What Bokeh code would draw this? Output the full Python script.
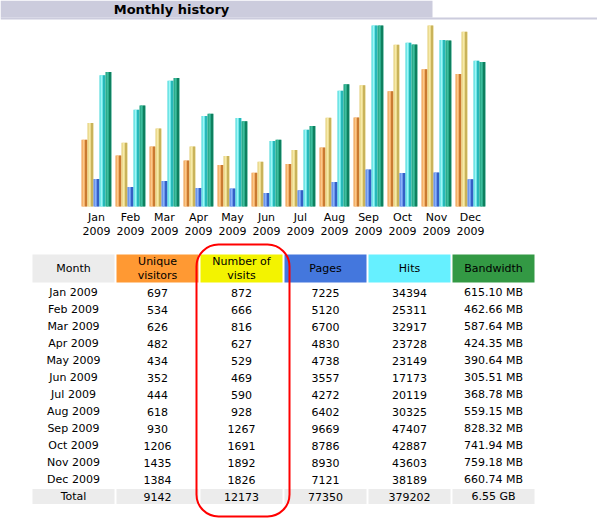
import numpy as np
from bokeh.plotting import figure
from bokeh.layouts import column
from bokeh.models import Range1d, ColumnDataSource, BoxAnnotation, Label
from bokeh.transform import dodge
from bokeh.core.properties import value
from bokeh.embed import file_html
from bokeh.resources import INLINE

# ---------------- data ----------------
year = "2009"
months = ["Jan", "Feb", "Mar", "Apr", "May", "Jun",
          "Jul", "Aug", "Sep", "Oct", "Nov", "Dec"]
unique_visitors = [697, 534, 626, 482, 434, 352, 444, 618, 930, 1206, 1435, 1384]
visits = [872, 666, 816, 627, 529, 469, 590, 928, 1267, 1691, 1892, 1826]
pages = [7225, 5120, 6700, 4830, 4738, 3557, 4272, 6402, 9669, 8786, 8930, 7121]
hits = [34394, 25311, 32917, 23728, 23149, 17173, 20119, 30325, 47407, 42887, 43603, 38189]
bandwidth_mb = [615.10, 462.66, 587.64, 424.35, 390.64, 305.51,
                368.78, 559.15, 828.32, 741.94, 759.18, 660.74]
table_headers = ["Month", "Unique\nvisitors", "Number of\nvisits", "Pages", "Hits", "Bandwidth"]
title_text = "Monthly history"
total_label = "Total"

FONT = "DejaVu Sans"
W = 597


def bare(fig):
    fig.grid.visible = False
    fig.outline_line_color = None
    fig.background_fill_color = "white"
    fig.border_fill_color = "white"
    return fig


# ---------------- title bar ----------------
TH = 20
tf = bare(figure(width=W, height=TH, x_range=Range1d(0, W), y_range=Range1d(TH, 0),
                 output_backend="svg", toolbar_location=None, min_border=0,
                 x_axis_location=None, y_axis_location=None))
tf.add_layout(BoxAnnotation(left=0, right=432, top=0, bottom=17, fill_color="#CCCCDD",
                            fill_alpha=1, line_color=None))
tf.add_layout(BoxAnnotation(left=0, right=W, top=17, bottom=19, fill_color="#CCCCDD",
                            fill_alpha=1, line_color=None))
tf.add_layout(Label(x=171, y=9, text=title_text, text_font=FONT, text_font_style="bold",
                    text_font_size="13px", text_align="center", text_baseline="middle",
                    text_color="#000000"))

# ---------------- bar chart ----------------
CH = 220
group_px = 34.0
first_center_px = 96.0
base_px = 186.0
full_px = 181.0


def yrange(vmax):
    return Range1d(-vmax * (CH - base_px) / full_px, vmax * (1 + (base_px - full_px) / full_px))


cf = bare(figure(width=W, height=CH,
                 x_range=Range1d(-first_center_px / group_px, (W - first_center_px) / group_px),
                 y_range=yrange(max(visits)),
                 output_backend="svg", toolbar_location=None, min_border=0,
                 x_axis_location=None, y_axis_location=None))
cf.extra_y_ranges = {"hits": yrange(max(hits)), "bw": yrange(max(bandwidth_mb))}

src = ColumnDataSource(dict(
    x=list(range(len(months))),
    label=[f"{m}\n{year}" for m in months],
    unique=unique_visitors, visits=visits, pages=pages, hits=hits, bw=bandwidth_mb,
))

series = [
    ("unique", "default", ("#EE9A48", "#FAC88C", "#A65A1A")),
    ("visits", "default", ("#E2CC72", "#F6EAAA", "#B09A42")),
    ("pages", "hits", ("#4A7AE2", "#8CB2F8", "#1E44A8")),
    ("hits", "hits", ("#3CD6D8", "#A0F6F6", "#129A9A")),
    ("bw", "bw", ("#189A78", "#3EBE9E", "#046646")),
]
bar_px = 6.0
for k, (fld, rname, (base_c, light_c, dark_c)) in enumerate(series):
    off = (k - (len(series) - 1) / 2) * bar_px
    cf.vbar(x=dodge("x", off / group_px, range=cf.x_range), top=fld, bottom=0,
            width=bar_px / group_px, source=src, fill_color=base_c, line_color=None,
            y_range_name=rname)
    cf.vbar(x=dodge("x", (off - 1.0) / group_px, range=cf.x_range), top=fld, bottom=0,
            width=2.0 / group_px, source=src, fill_color=light_c, line_color=None,
            y_range_name=rname)
    cf.vbar(x=dodge("x", (off + 1.5) / group_px, range=cf.x_range), top=fld, bottom=0,
            width=1.0 / group_px, source=src, fill_color=dark_c, line_color=None,
            y_range_name=rname)

cf.text(x="x", y=0, text="label", source=src, text_align="center", text_baseline="top",
        y_offset=4, text_font=value(FONT), text_font_size="11px", text_color="#000000",
        text_line_height=1.15)

# ---------------- table ----------------
TBH = 280
col_px = 84.0
col0_px = 73.0
row_px = 17.0
row0_px = 52.0
cell_w = 82.0 / col_px

tb = bare(figure(width=W, height=TBH,
                 x_range=Range1d(-col0_px / col_px, (W - col0_px) / col_px),
                 y_range=Range1d((TBH - row0_px) / row_px, -row0_px / row_px),
                 output_backend="svg", toolbar_location=None, min_border=0,
                 x_axis_location=None, y_axis_location=None))

header_colors = ["#ECECEC", "#FF9933", "#F3F300", "#4477DD", "#66F0FF", "#339944"]
ncol = len(table_headers)
col_idx = list(range(ncol))
hdr_y = -24.0 / row_px
tb.rect(x=col_idx, y=[hdr_y] * ncol, width=cell_w, height=28.0 / row_px,
        fill_color=header_colors, line_color=None)
tb.text(x=col_idx, y=[hdr_y] * ncol, text=table_headers, text_align="center",
        text_baseline="middle", text_font=value(FONT), text_font_size="11px",
        text_color="#000000", text_line_height=1.1)

nrow = len(months)
tb.rect(x=col_idx, y=[nrow] * ncol, width=cell_w, height=15.0 / row_px,
        fill_color="#ECECEC", line_color=None)

rows = []
for i, m in enumerate(months):
    rows.append([f"{m} {year}", str(unique_visitors[i]), str(visits[i]), str(pages[i]),
                 str(hits[i]), f"{bandwidth_mb[i]:.2f} MB"])
rows.append([total_label, str(sum(unique_visitors)), str(sum(visits)), str(sum(pages)),
             str(sum(hits)), f"{sum(bandwidth_mb) / 1024:.2f} GB"])

tx, ty, tt = [], [], []
for r, row in enumerate(rows):
    for c, s in enumerate(row):
        tx.append(c)
        ty.append(r)
        tt.append(s)
tb.text(x=tx, y=ty, text=tt, text_align="center", text_baseline="middle",
        text_font=value(FONT), text_font_size="11px", text_color="#000000")

vi = table_headers.index("Number of\nvisits")
tb.add_layout(BoxAnnotation(left=vi - 45.0 / col_px, right=vi + 48.0 / col_px,
                            top=-48.0 / row_px, bottom=224.0 / row_px,
                            fill_alpha=0, line_color="#FF0000", line_alpha=1.0,
                            line_width=2, border_radius=22))

layout = column(tf, cf, tb, spacing=0)

open("out.html", "w").write(file_html(layout, INLINE))
